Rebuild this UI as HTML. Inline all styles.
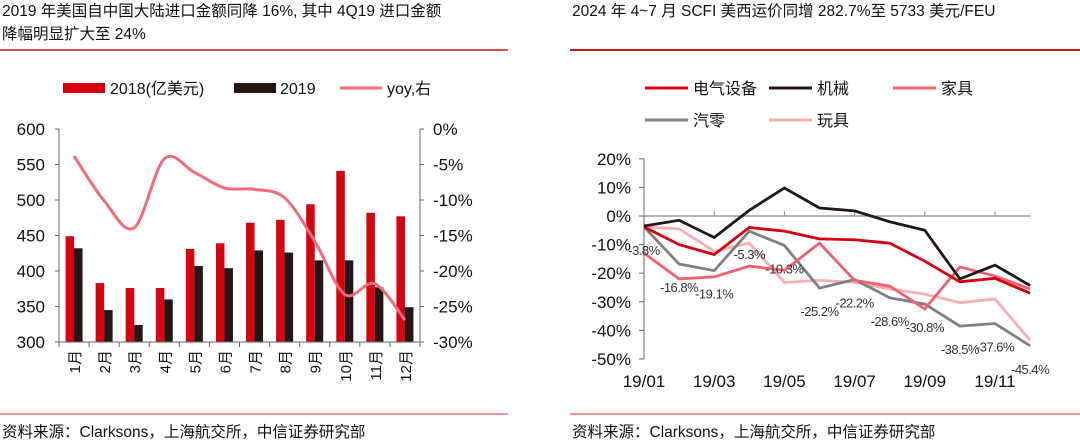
<!DOCTYPE html>
<html><head><meta charset="utf-8"><style>
body{margin:0;width:1080px;height:447px;background:#fff;overflow:hidden;font-family:"Liberation Sans Narrow","Liberation Sans","Noto Sans CJK SC",sans-serif;}
svg text{font-family:"Liberation Sans","Noto Sans CJK SC",sans-serif;}
.t{position:absolute;font-size:15.5px;color:#111;line-height:23px;font-family:"Liberation Sans Narrow","Liberation Sans","Noto Sans CJK SC",sans-serif;}
</style></head><body>
<div class="t" style="left:2px;top:0px;width:510px">2019 年美国自中国大陆进口金额同降 16%, 其中 4Q19 进口金额<br>降幅明显扩大至 24%</div>
<div class="t" style="left:572px;top:0px">2024 年 4~7 月 SCFI 美西运价同增 282.7%至 5733 美元/FEU</div>
<div class="t" style="left:2px;top:421px">资料来源：Clarksons，上海航交所，中信证券研究部</div>
<div class="t" style="left:572px;top:421px">资料来源：Clarksons，上海航交所，中信证券研究部</div>
<svg id="s" width="1080" height="447" style="position:absolute;left:0;top:0">
<line x1="0" y1="50" x2="508" y2="50" stroke="#c8181e" stroke-width="1.5"/>
<line x1="570" y1="50" x2="1080" y2="50" stroke="#c8181e" stroke-width="2"/>
<line x1="0" y1="414" x2="508" y2="414" stroke="#e07070" stroke-width="1.5"/>
<line x1="570" y1="414" x2="1080" y2="414" stroke="#e07070" stroke-width="1.5"/>
<g id="L"></g><g id="R"></g>
</svg>
<script>
const months=["1月","2月","3月","4月","5月","6月","7月","8月","9月","10月","11月","12月"];
const v2018=[449,383,376,376,431,439,468,472,494,541,482,477];
const v2019=[432,345,324,360,407,404,429,426,415,415,377,349];
const yoy=[-3.8,-10.1,-13.9,-4.2,-6.1,-8.3,-8.5,-9.7,-15.8,-23.3,-21.8,-26.9];
const leftTicks=[300,350,400,450,500,550,600];
const rightTicks=[0,-5,-10,-15,-20,-25,-30];

const xLabels=["19/01","19/03","19/05","19/07","19/09","19/11"];
const sElec=[-3.8,-10,-13.5,-4,-5.3,-8,-8.3,-9.5,-15.8,-23,-21.8,-27];
const sMach=[-3.5,-1.5,-7.5,2,9.8,2.8,1.8,-2,-5,-22,-17.2,-24.3];
const sFurn=[-13,-22,-21.3,-17.5,-19,-9.5,-22.5,-24.5,-32.5,-17.8,-21,-25.5];
const sAuto=[-3.8,-16.8,-19.1,-5.3,-10.3,-25.2,-22.2,-28.6,-30.8,-38.5,-37.6,-45.4];
const sToy=[-3.8,-4.5,-12.3,-9.5,-23.2,-22.5,-23.2,-25.5,-27.3,-30.3,-29,-43.5];
const pctTicks=[20,10,0,-10,-20,-30,-40,-50];

const NS="http://www.w3.org/2000/svg";
function mk(p,tag,attrs,txt){const e=document.createElementNS(NS,tag);for(const k in attrs)e.setAttribute(k,attrs[k]);if(txt!==undefined)e.textContent=txt;p.appendChild(e);return e;}

// LEFT chart
const L=document.getElementById('L');
const lx0=59,lx1=420,ly0=342,ly1=129;
const slot=(lx1-lx0)/12;
const yL=v=>ly0-(v-300)/300*(ly0-ly1);
const yR=v=>ly0-(v+30)/30*(ly0-ly1);
const xc=i=>lx0+slot*(i+0.5);
v2018.forEach((v,i)=>{const r=mk(L,'rect',{x:xc(i)-8.5,y:yL(v),width:8.5,height:ly0-yL(v),fill:'#d7000f'});

});
v2019.forEach((v,i)=>{const r=mk(L,'rect',{x:xc(i),y:yL(v),width:8.5,height:ly0-yL(v),fill:'#231815'});

});
mk(L,'line',{x1:lx0,y1:ly1,x2:lx0,y2:ly0,stroke:'#666'});
mk(L,'line',{x1:lx1,y1:ly1,x2:lx1,y2:ly0,stroke:'#666'});
mk(L,'line',{x1:lx0,y1:ly0,x2:lx1,y2:ly0,stroke:'#666'});
leftTicks.forEach(t=>{mk(L,'line',{x1:lx0-4,y1:yL(t),x2:lx0,y2:yL(t),stroke:'#666'});
const e=mk(L,'text',{x:lx0-14,y:yL(t)+6,'text-anchor':'end','font-size':17,fill:'#111'},t);

});
rightTicks.forEach(t=>{mk(L,'line',{x1:lx1,y1:yR(t),x2:lx1+4,y2:yR(t),stroke:'#666'});
const e=mk(L,'text',{x:lx1+13,y:yR(t)+6,'font-size':17,fill:'#111'},t+'%');

});
for(let i=0;i<=12;i++)mk(L,'line',{x1:lx0+slot*i,y1:ly0,x2:lx0+slot*i,y2:ly0+5,stroke:'#666'});
months.forEach((m,i)=>{const e=mk(L,'text',{x:0,y:0,'font-size':15,fill:'#111','text-anchor':'end',transform:`translate(${xc(i)+6},${ly0+8}) rotate(-90)`},m);

});
function smooth(pts){let d=`M${pts[0][0]},${pts[0][1]}`;for(let i=0;i<pts.length-1;i++){const p0=pts[i-1]||pts[i],p1=pts[i],p2=pts[i+1],p3=pts[i+2]||p2;
d+=` C${p1[0]+(p2[0]-p0[0])/6},${p1[1]+(p2[1]-p0[1])/6} ${p2[0]-(p3[0]-p1[0])/6},${p2[1]-(p3[1]-p1[1])/6} ${p2[0]},${p2[1]}`;}return d;}
const yp=mk(L,'path',{d:smooth(yoy.map((v,i)=>[xc(i),yR(v)])),fill:'none',stroke:'#f26b7a','stroke-width':3});


const lg=[["rect","#d7000f",63,"2018(亿美元)",110],["rect","#231815",234,"2019",280],["line","#f26b7a",340,"yoy,右",387]];
lg.forEach(l=>{const g=mk(L,'g',{});


if(l[0]=='rect')mk(g,'rect',{x:l[2],y:83,width:42,height:10,fill:l[1]});else mk(g,'line',{x1:l[2],y1:88,x2:l[2]+42,y2:88,stroke:l[1],'stroke-width':3});
mk(g,'text',{x:l[4],y:94,'font-size':16,fill:'#111'},l[3]);});

// RIGHT chart
const R=document.getElementById('R');
const rx0=644,step=35.1,ry0=216,per10=28.6;
const xM=i=>rx0+i*step;
const yP=v=>ry0-v/10*per10;
mk(R,'line',{x1:rx0,y1:yP(20),x2:rx0,y2:yP(-50),stroke:'#666'});
mk(R,'line',{x1:rx0,y1:ry0,x2:xM(11),y2:ry0,stroke:'#888','stroke-width':1.3});
pctTicks.forEach(t=>{mk(R,'line',{x1:rx0-5,y1:yP(t),x2:rx0,y2:yP(t),stroke:'#666'});
const e=mk(R,'text',{x:rx0-13,y:yP(t)+6,'text-anchor':'end','font-size':17,fill:'#111'},t+'%');

});
xLabels.forEach((l,k)=>{const i=k*2;mk(R,'line',{x1:xM(i),y1:ry0,x2:xM(i),y2:ry0-5,stroke:'#888'});
const e=mk(R,'text',{x:xM(i),y:387,'text-anchor':'middle','font-size':17,fill:'#111'},l);

});
const series=[[sToy,'#f9aeb2','toy-line'],[sAuto,'#808080','auto-parts-line'],[sFurn,'#f06070','furniture-line'],[sElec,'#d7000f','electrical-line'],[sMach,'#231815','machinery-line']];
series.forEach(s=>{const p=mk(R,'polyline',{points:s[0].map((v,i)=>xM(i)+','+yP(v)).join(' '),fill:'none',stroke:s[1],'stroke-width':2.8});

});
sAuto.forEach((v,i)=>{const e=mk(R,'text',{x:xM(i),y:yP(v)+28,'text-anchor':'middle','font-size':13,fill:'#333','letter-spacing':'-0.5'},v.toFixed(1)+'%');

});
const rl=[["#d7000f",645,88,"电气设备"],["#231815",769,88,"机械"],["#f06070",893,88,"家具"],["#808080",645,120,"汽零"],["#f9aeb2",769,120,"玩具"]];
rl.forEach(l=>{const g=mk(R,'g',{});


mk(g,'line',{x1:l[1],y1:l[2],x2:l[1]+43,y2:l[2],stroke:l[0],'stroke-width':3});
mk(g,'text',{x:l[1]+48,y:l[2]+6,'font-size':16,fill:'#111'},l[3]);});
</script>
</body></html>
